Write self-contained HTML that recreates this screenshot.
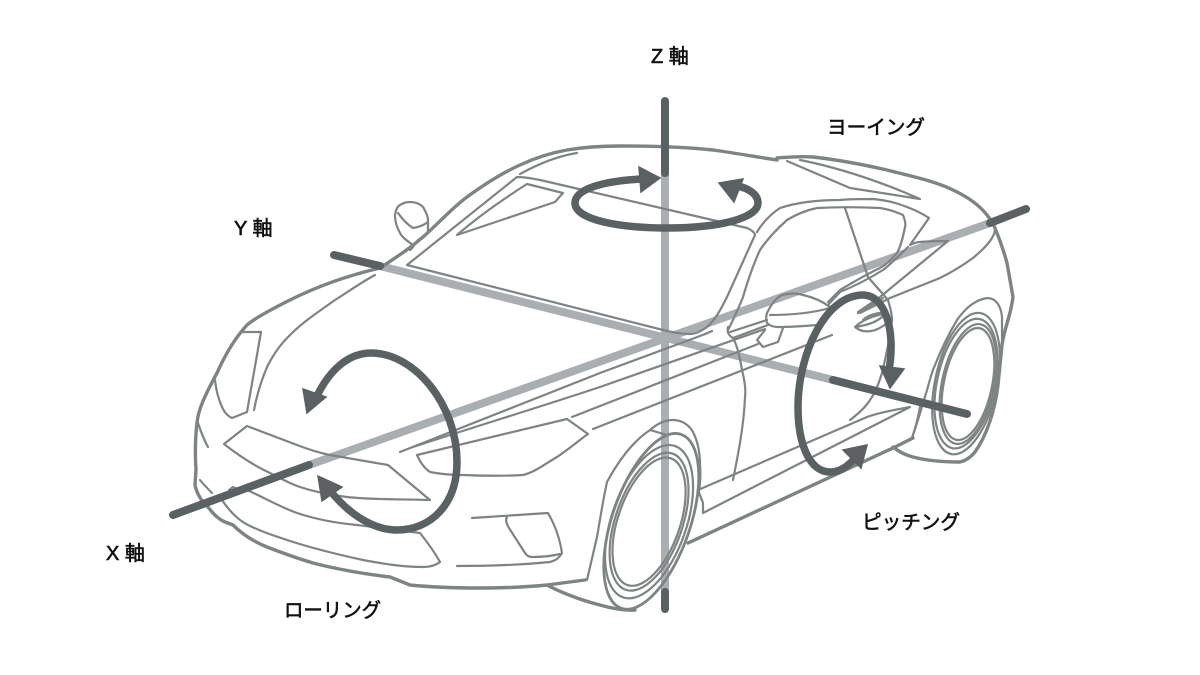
<!DOCTYPE html>
<html><head><meta charset="utf-8">
<style>
html,body{margin:0;padding:0;background:#fff;width:1200px;height:675px;overflow:hidden}
svg{display:block}
text{font-family:"Liberation Sans","Noto Sans CJK JP",sans-serif;font-size:20px;font-weight:400;fill:#111;stroke:#111;stroke-width:.6}
.o{fill:none;stroke:#7e8384;stroke-width:3.4;stroke-linejoin:round;stroke-linecap:round}
.t{fill:none;stroke:#7e8384;stroke-width:2.2;stroke-linejoin:round;stroke-linecap:round}
.a{fill:none;stroke:#a9aeb0;stroke-width:8}
.d{fill:none;stroke:#5a6162;stroke-width:8;stroke-linecap:round}
.r{fill:none;stroke:#5a6162;stroke-width:7.5;stroke-linecap:butt}
.h{fill:#5a6162;stroke:#5a6162;stroke-width:1.5;stroke-linejoin:miter}
</style></head><body>
<svg width="1200" height="675" viewBox="0 0 1200 675" xmlns="http://www.w3.org/2000/svg">
<!-- light axes -->
<path class="a" d="M665 173V592M380 266L833 380M309 465L990 223"/>
<!-- body outer -->
<path class="o" d="M380 268C350 275 320 285 290 300C270 310 255 318 247 325C235 338 225 355 217 373C205 395 198 410 197 423C195 440 195 455 196 470L195 485C197 495 203 503 208 507C214 515 220 520 225 522L233 525C242 534 252 541 267 547C280 552 296 558 313 563C340 570 365 574 390 577L410 585C430 587 455 588 480 588C505 588 527 587 547 585L585 580"/>
<path class="o" d="M380 268C395 258 408 250 423 237C440 222 452 208 467 197C485 184 502 173 520 165C535 158 550 153 567 150C585 147 600 146 620 146C650 146 685 147 713 150C735 153 757 157 777 160"/>
<path class="o" d="M777 158C790 157 800 156 813 157C840 160 865 165 887 170C910 176 935 181 953 190C968 197 980 206 987 215C991 220 993 224 995 228C1000 240 1004 252 1007 263L1013 297C1012 305 1010 313 1008 320C1005 330 1003 338 1002 345L998 385C995 410 987 435 975 452C970 458 965 461 960 462C945 462 928 461 913 457C905 455 898 451 893 447"/>
<path class="o" d="M913 438L893 448L688 543"/>
<path class="t" d="M920 407C918 418 915 430 912 438"/>
<!-- front tire -->
<g transform="rotate(19 650 522)">
<ellipse class="o" cx="651" cy="521" rx="39" ry="92" style="stroke-width:2.8"/>
<ellipse class="t" cx="649" cy="522" rx="31" ry="67"/>
<ellipse class="t" cx="649" cy="522" rx="33.5" ry="72"/>
<ellipse class="t" cx="649" cy="522" rx="37.5" ry="80"/>
</g>
<path class="t" d="M587 580L597 537C600 520 603 500 607 482C620 458 635 440 650 430C658 423 665 420 673 420C682 420 689 425 693 432C698 442 700 453 700 465C701 478 700 487 698 495"/>
<path class="t" d="M650 430L667 435"/>
<path class="o" d="M547 585C560 592 580 600 600 605C610 608 625 611 635 610"/>
<!-- rear tire -->
<g transform="rotate(12 968 384)">
<ellipse class="t" cx="968" cy="384" rx="24" ry="57"/>
<ellipse class="t" cx="968" cy="384" rx="26" ry="61"/>
<ellipse class="t" cx="966" cy="384" rx="29" ry="66"/>
<ellipse class="t" cx="966" cy="384" rx="31" ry="72"/>
</g>
<path class="t" d="M912 438C916 425 920 415 923 403C928 388 930 378 933 370C940 352 948 335 957 320C967 306 976 300 987 298C996 298 1001 306 1002 317L1002 345"/>
<!-- hood / headlight left -->
<path class="t" d="M243 332L261 332L247 412L232 418C226 415 224 411 222 407C218 398 216 390 215 380"/>
<path class="t" d="M375 275C360 283 348 292 335 300C318 312 303 322 290 335C280 345 275 352 268 365C262 378 257 395 254 410"/>
<path class="t" d="M198 423C201 432 204 440 208 447"/>
<!-- grille -->
<path class="t" d="M224 444L247 426L297 445C310 450 320 453 330 455L388 465L430 500C400 499 375 500 347 497C330 495 315 492 300 487C288 483 280 478 270 473C255 466 238 455 224 444Z"/>
<path class="t" d="M247 490C265 498 280 507 297 513C315 519 335 523 357 525L420 533C428 543 435 553 440 562C435 566 428 567 423 567C400 567 380 563 363 560C340 555 318 550 290 541C275 536 262 532 248 525C238 520 230 512 222 500"/>
<path class="t" d="M200 480C204 485 208 489 212 493"/>
<path class="t" d="M229 490L233 487L240 490"/>
<!-- headlight right -->
<path class="t" d="M417 455L567 419L588 434C578 441 568 450 557 457C545 464 535 472 523 475C505 476 485 476 463 475C450 475 440 474 430 472C424 468 420 462 417 455Z"/>
<path class="t" d="M400 452C470 425 535 398 600 373L700 336C708 333 710 332 712 331"/>
<path class="t" d="M413 447C480 425 540 407 600 387L765 329"/>
<path class="t" d="M572 417L758 344"/>
<path class="t" d="M593 429L832 335"/>
<!-- fog -->
<path class="t" d="M472 518L548 513C555 525 560 540 562 553C558 560 553 561 550 562C520 565 490 566 457 566"/>
<path class="t" d="M507 517C505 520 507 525 509 528L525 553C527 556 529 557 532 557C542 557 552 556 560 554"/>
<!-- windshield -->
<path class="t" d="M520 174C540 163 558 156 577 153"/>
<path class="t" d="M407 265L517 177C522 177 530 178 540 180L747 228C752 230 755 233 755 235L727 297C720 311 715 320 707 327C700 332 695 334 690 334C680 334 672 332 667 331L407 265Z"/>
<path class="t" d="M457 235C480 215 505 198 527 184L563 193L555 202L457 235Z"/>
<!-- mirror left -->
<path class="t" d="M410 250C416 245 413 245 413 245C406 240 402 237 400 233C396 226 395 220 395 215C396 209 398 206 400 205C403 203 407 202 410 202C416 202 420 204 423 207C426 212 428 216 428 220L428 232C425 237 422 238 418 240L410 250"/>
<path class="t" d="M398 213C403 220 408 225 413 228C420 227 424 225 428 222"/>
<!-- side windows -->
<path class="t" d="M757 232C763 222 771 214 780 208C795 203 815 200 840 200C850 199 862 199 873 199C885 200 897 203 907 207C915 210 923 214 929 218L910 245C914 243 917 242 920 242C930 241 940 241 948 241L880 297L858 312"/>
<path class="t" d="M728 330C732 322 738 310 743 297C748 280 753 265 760 250C768 238 778 228 787 220C797 214 807 210 817 208C835 207 860 207 880 208C888 209 896 212 903 215C905 220 906 224 905 227C903 237 901 246 897 253C892 259 887 264 880 268C865 275 850 284 840 290L828 302"/>
<path class="t" d="M728 327C727 332 728 335 733 338C737 345 740 358 742 370C745 382 746 390 745 397C744 425 738 455 733 480"/>
<path class="t" d="M845 208L868 277L888 300C891 310 892 316 892 320C889 345 885 360 882 373C879 383 875 393 870 400C865 408 858 414 850 420"/>
<path class="t" d="M908 247C900 255 892 263 883 270C870 278 855 286 840 292L828 305"/>
<path class="t" d="M995 228C995 232 994 235 992 238C987 246 980 252 973 258C962 266 950 273 940 278L890 298L860 313"/>
<path class="t" d="M733 338L768 325M730 332L767 320"/>
<path class="t" d="M787 161L850 188L920 199C895 188 850 170 800 160"/>
<!-- sill -->
<path class="t" d="M698 490L867 417C880 412 895 410 910 407L703 513L703 503Z"/>
<!-- mirror right -->
<path class="t" d="M767 313C772 303 776 298 782 295C790 293 797 293 803 295C812 297 822 301 830 307C829 312 827 316 824 319C820 324 818 325 817 325C805 326 790 327 778 327C773 327 769 325 767 323C766 320 766 316 767 313ZM770 315C790 315 812 313 830 308"/>
<path class="t" d="M765 330L757 340L763 347L778 342L783 328"/>
<!-- door handle -->
<path class="t" d="M858 313L883 298M855 327C862 320 875 315 885 314C880 320 870 325 855 327C862 333 875 334 888 322M863 320C868 315 878 312 885 313"/>
<!-- dark axes -->
<path class="d" d="M665 101V173M665 592V609M334 255L380 266M833 380L967 414M173 515L309 465M990 223L1026 209"/>
<!-- rolling -->
<path class="r" d="M316 398C330 368 350 353 371 353C415 353 457 405 457 462C457 505 430 530 397 530C370 530 345 510 328 488"/>
<path class="h" d="M303 389L326 397L307 413Z"/>
<path class="h" d="M318 476L342 487L322 501Z"/>
<!-- yaw -->
<path class="r" d="M642 179C600 181 575 190 575 203C575 220 620 228 667 228C720 228 758 218 758 203C758 194 748 188 737 186"/>
<path class="h" d="M639 167L660 178L641 192Z"/>
<path class="h" d="M719 183L743 179L734 202Z"/>
<!-- pitch -->
<path class="r" d="M889 370C896 330 885 295 863 295C825 295 798 355 798 407C798 445 810 472 830 472C842 472 850 464 855 458"/>
<path class="h" d="M880 366L904 369L890 388Z"/>
<path class="h" d="M843 450L867 445L861 468Z"/>
<!-- labels -->
<text x="651" y="63">Z 軸</text>
<text x="827" y="134" textLength="98" lengthAdjust="spacingAndGlyphs">ヨーイング</text>
<text x="234" y="235">Y 軸</text>
<text x="106" y="560">X 軸</text>
<text x="284" y="617" textLength="97" lengthAdjust="spacingAndGlyphs">ローリング</text>
<text x="862" y="529" textLength="98" lengthAdjust="spacingAndGlyphs">ピッチング</text>
</svg>
</body></html>
